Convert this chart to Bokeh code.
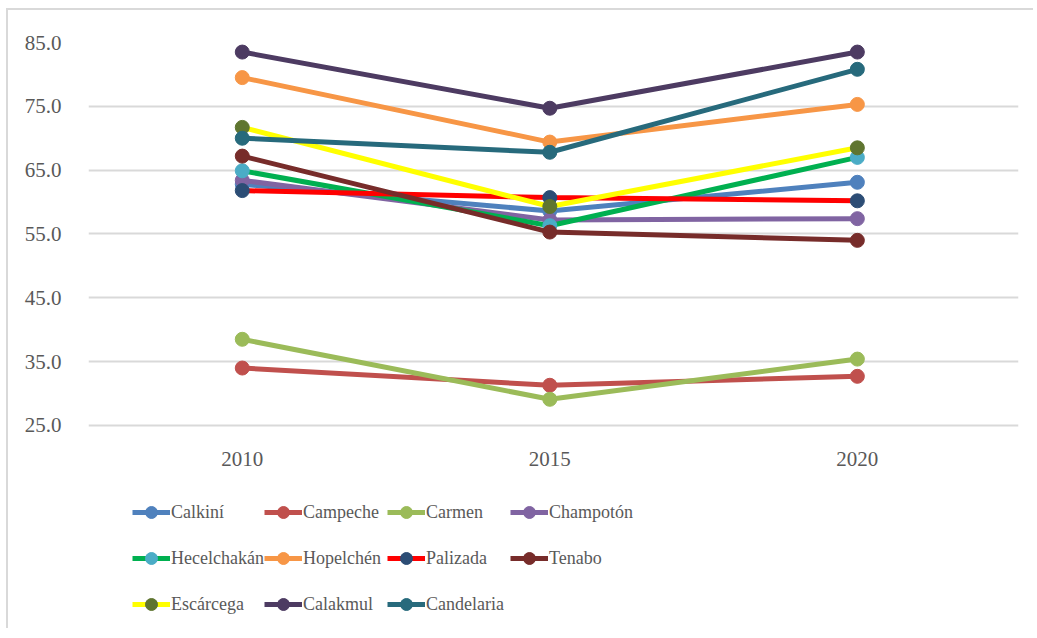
from bokeh.plotting import figure
from bokeh.models import (Range1d, FixedTicker, PrintfTickFormatter, Legend, LegendItem,
                          ColumnDataSource)
from bokeh.embed import file_html
from bokeh.resources import INLINE

years = [2010, 2015, 2020]
names = ["Calkiní", "Campeche", "Carmen", "Champotón", "Hecelchakán", "Hopelchén",
         "Palizada", "Tenabo", "Escárcega", "Calakmul", "Candelaria"]
calkini = [62.8, 58.6, 63.1]
campeche = [34.0, 31.3, 32.7]
carmen = [38.5, 29.1, 35.4]
champoton = [63.4, 57.2, 57.4]
hecelchakan = [64.9, 56.3, 67.0]
hopelchen = [79.5, 69.4, 75.3]
palizada = [61.8, 60.7, 60.2]
tenabo = [67.2, 55.3, 54.0]
escarcega = [71.7, 59.3, 68.5]
calakmul = [83.5, 74.7, 83.5]
candelaria = [70.0, 67.8, 80.8]
series = [calkini, campeche, carmen, champoton, hecelchakan, hopelchen,
          palizada, tenabo, escarcega, calakmul, candelaria]
line_colors = ["#4F81BD", "#C0504D", "#9BBB59", "#8064A2", "#00B050", "#F79646",
               "#FF0000", "#772C2A", "#FFFF00", "#4D3B62", "#276A7C"]
marker_colors = ["#4F81BD", "#C0504D", "#9BBB59", "#8064A2", "#4BACC6", "#F79646",
                 "#2C4D75", "#772C2A", "#5F7530", "#4D3B62", "#276A7C"]
y_ticks = [25, 35, 45, 55, 65, 75, 85]

FONT = "Liberation Serif"
TXT = "#595959"

p = figure(width=1027, height=620, output_backend="svg", toolbar_location=None,
           x_range=Range1d(2007.5, 2022.62), y_range=Range1d(-7.12, 85),
           min_border_left=80, min_border_right=17, min_border_top=32, min_border_bottom=0,
           background_fill_color="white", border_fill_color="white")
p.outline_line_color = None
p.styles = {"margin-left": "6px", "margin-top": "8px",
            "border-left": "2px solid #d9d9d9", "border-top": "2px solid #d9d9d9"}

p.xgrid.grid_line_color = None
p.ygrid.grid_line_color = "#d9d9d9"
p.ygrid.grid_line_width = 2
p.ygrid.ticker = FixedTicker(ticks=y_ticks)

p.yaxis.ticker = FixedTicker(ticks=y_ticks)
p.yaxis.formatter = PrintfTickFormatter(format="%.1f")
p.xaxis.ticker = FixedTicker(ticks=years)
p.xaxis.formatter = PrintfTickFormatter(format="%d")
p.xaxis.fixed_location = 25
for ax in (p.xaxis, p.yaxis):
    ax.axis_line_color = None
    ax.major_tick_line_color = None
    ax.minor_tick_line_color = None
    ax.major_label_text_font = FONT
    ax.major_label_text_font_size = "21px"
    ax.major_label_text_color = TXT
p.yaxis.major_label_standoff = 21
p.xaxis.major_label_standoff = 21

renderers = []
for name, vals, lc, mc in zip(names, series, line_colors, marker_colors):
    src = ColumnDataSource(dict(x=years, y=vals))
    l = p.line("x", "y", source=src, line_color=lc, line_width=5)
    s = p.scatter("x", "y", source=src, size=14, fill_color=mc, line_color=mc)
    renderers.append((name, l, s))

items = [LegendItem(label=n, renderers=[l, s]) for (n, l, s) in renderers]
lg = Legend(items=items, location=(44, 3), orientation="horizontal", ncols=4,
            glyph_width=38, glyph_height=30, label_height=46, label_width=84, spacing=0,
            padding=0, margin=0, label_standoff=1,
            label_text_font=FONT, label_text_font_size="18px", label_text_color=TXT,
            border_line_color=None, background_fill_alpha=0)
p.add_layout(lg, "center")

open("out.html", "w").write(file_html(p, INLINE))
